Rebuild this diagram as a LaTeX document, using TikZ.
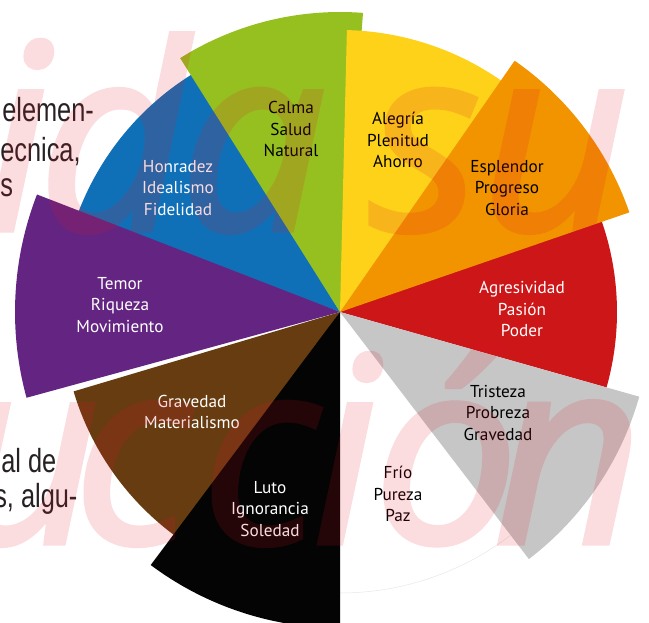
\documentclass[tikz,border=0pt]{standalone}
\usepackage{fontspec}
\setmainfont{PT Sans}
\newfontfamily\wmfont{Open Sans}[ItalicFeatures={FakeBold=2}]
\newfontfamily\bodyfont{Liberation Sans}

\definecolor{cblue}{RGB}{16,112,183}
\definecolor{cgreen}{RGB}{150,192,31}
\definecolor{cyellow}{RGB}{253,210,25}
\definecolor{corange}{RGB}{242,148,0}
\definecolor{cred}{RGB}{204,22,24}
\definecolor{cgray}{RGB}{198,198,198}
\definecolor{cbrown}{RGB}{104,60,17}
\definecolor{cblack}{RGB}{4,4,4}
\definecolor{cpurple}{RGB}{100,37,130}
\definecolor{bodygray}{RGB}{40,33,35}
\definecolor{wmred}{RGB}{225,20,40}

% one coloured slice of the wheel: colour, start, end, radius
\newcommand{\colorslice}[4]{\fill[#1] (mid) -- ++(#2:#4) arc[start angle=#2, end angle=#3, radius=#4] -- cycle;}

\begin{document}
\begin{tikzpicture}[x=0.02cm, y=0.02cm,
    lbl/.style={align=center, inner sep=0pt, font=\fontsize{9.8}{12.1}\selectfont},
    dark/.style={lbl, text=black},
    light/.style={lbl, text=white},
    bodytxt/.style={anchor=base west, inner sep=0pt, text=bodygray, font=\bodyfont\fontsize{19}{22}\selectfont, xscale=0.76, transform shape},
    wm/.style={anchor=base, inner sep=0pt, text=wmred, font=\wmfont\itshape\fontsize{147}{150}\selectfont}]
    \useasboundingbox (0,0) rectangle (649,622);
    \clip (0,0) rectangle (649,622);
    \coordinate (mid) at (340,310);

    % Text of the page behind the wheel
    \node[bodytxt] (txt-1) at (2,500) {elemen-};
    \node[bodytxt] (txt-2) at (0,460) {ecnica,};
    \node[bodytxt] (txt-3) at (0,425) {s};
    \node[bodytxt] (txt-4) at (1,149) {al de};
    \node[bodytxt] (txt-5) at (-6,114) {s, algu-};

    % Wheel slices
    \colorslice{cblue}{121}{160}{280}
    \colorslice{cgreen}{85.6}{122.2}{300}
    \colorslice{cyellow}{55}{88.6}{282}
    \colorslice{cred}{-15.8}{22}{277}
    \colorslice{corange}{19}{55.2}{306}
    \colorslice{cgray}{-52.6}{-15.8}{311}
    \draw[black!9, line width=0.3pt] (mid) ++(-90:281) arc[start angle=-90, end angle=-52.6, radius=281];
    \colorslice{cbrown}{196.6}{236}{278}
    \colorslice{cblack}{-126.8}{-90}{316}
    \colorslice{cpurple}{158.8}{195.3}{325}

    % Labels
    \node[dark] (calma) at (291,493) {Calma\\Salud\\Natural};
    \node[dark] (alegria) at (398,482) {Alegría\\Plenitud\\Ahorro};
    \node[dark] (esplendor) at (507,434) {Esplendor\\Progreso\\Gloria};
    \node[light] (agresividad) at (522,313) {Agresividad\\Pasión\\Poder};
    \node[dark] (tristeza) at (498,209) {Tristeza\\Probreza\\Gravedad};
    \node[dark] (frio) at (398,128) {Frío\\Pureza\\Paz};
    \node[light] (luto) at (270,113) {Luto\\Ignorancia\\Soledad};
    \node[light] (gravedad) at (192,210) {Gravedad\\Materialismo};
    \node[light] (temor) at (120,317) {Temor\\Riqueza\\Movimiento};
    \node[light] (honradez) at (178,434) {Honradez\\Idealismo\\Fidelidad};

    % Watermark
    \begin{scope}[transparency group, opacity=0.15]
    \foreach \ch/\xx [count=\k] in {i/16, d/113, a/253, s/425, u/555}
        \node[wm] (wm-top-\k) at (\xx,392) {\ch};
    \foreach \ch/\xx [count=\k] in {u/26, c/132, c/260, i/345, ó/446, n/568}
        \node[wm] (wm-bot-\k) at (\xx,79) {\ch};
    \end{scope}
\end{tikzpicture}
\end{document}
